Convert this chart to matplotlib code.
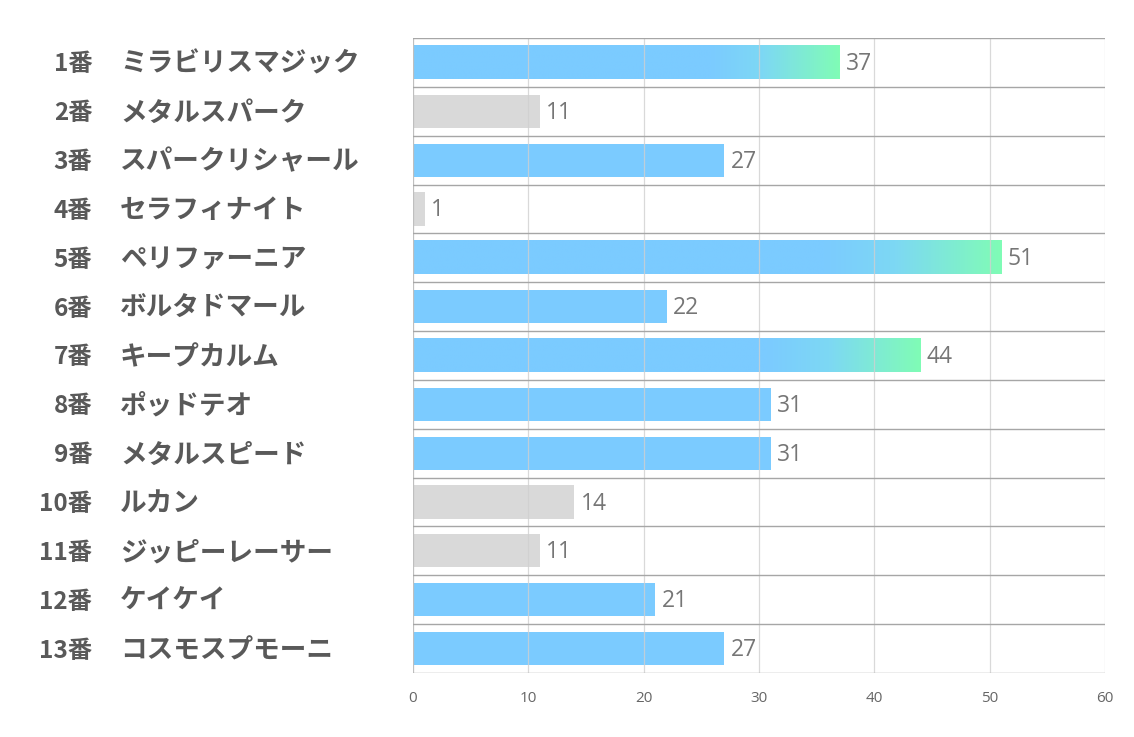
import numpy as np
import matplotlib.pyplot as plt
from matplotlib.colors import LinearSegmentedColormap

plt.rcParams['font.family'] = ['Noto Sans CJK JP', 'DejaVu Sans']

numbers = ['1番', '2番', '3番', '4番', '5番', '6番', '7番', '8番', '9番', '10番', '11番', '12番', '13番']
names = ['ミラビリスマジック', 'メタルスパーク', 'スパークリシャール', 'セラフィナイト', 'ペリファーニア',
         'ボルタドマール', 'キープカルム', 'ポッドテオ', 'メタルスピード', 'ルカン', 'ジッピーレーサー',
         'ケイケイ', 'コスモスプモーニ']
values = [37, 11, 27, 1, 51, 22, 44, 31, 31, 14, 11, 21, 27]
# 'g' = gradient (top picks), 'b' = blue, 'x' = grey
kinds = ['g', 'x', 'b', 'x', 'g', 'b', 'g', 'b', 'b', 'x', 'x', 'b', 'b']

blue = '#7bcbff'
grey = '#d9d9d9'
green = '#80fcb6'
grad = LinearSegmentedColormap.from_list('grad', [(0, blue), (0.7, blue), (0.82, '#7dd8f4'), (1, green)])

fig = plt.figure(figsize=(11.34, 7.37), dpi=100)
ax = fig.add_axes([413 / 1134, 1 - 673 / 737, (1105 - 413) / 1134, (673 - 38) / 737])

n = len(values)
ys = np.arange(n)
h = 0.68
for y, v, k in zip(ys, values, kinds):
    if k == 'g':
        img = np.linspace(0, 1, 256).reshape(1, -1)
        ax.imshow(img, cmap=grad, extent=(0, v, y + h / 2, y - h / 2), aspect='auto', zorder=2)
    else:
        ax.barh(y, v, height=h, color=blue if k == 'b' else grey, zorder=2)
    ax.text(v + 0.55, y + 0.03, str(v), va='center', ha='left', fontsize=16.5,
            color='#767676', family=['Open Sans', 'DejaVu Sans'])

ax.set_xlim(0, 60)
ax.set_ylim(n - 0.5, -0.5)
ax.set_xticks(range(0, 61, 10))
ax.tick_params(axis='x', length=0, labelsize=11, labelcolor='#666666', pad=13)
ax.set_yticks([])
for lab in ax.get_xticklabels():
    lab.set_family(['Open Sans', 'DejaVu Sans'])

for x in range(10, 61, 10):
    ax.axvline(x, color='#d0d0d0', lw=0.9, zorder=3, alpha=0.8)
ax.axvline(0, color='#bfbfbf', lw=0.9, zorder=3)
for b in np.arange(-0.5, n, 1):
    ax.axhline(b, color='#a6a6a6', lw=1.0, zorder=3)
for s in ax.spines.values():
    s.set_visible(False)

# row labels
for y, num, name in zip(ys, numbers, names):
    ax.text(-27.8, y + 0.04, num, ha='right', va='center', fontsize=17.5, fontweight='bold',
            color='#595959', clip_on=False)
    ax.text(-25.4, y + 0.04, name, ha='left', va='center', fontsize=19.2, fontweight='bold',
            color='#595959', clip_on=False)

fig.savefig('out.png', dpi=100)
